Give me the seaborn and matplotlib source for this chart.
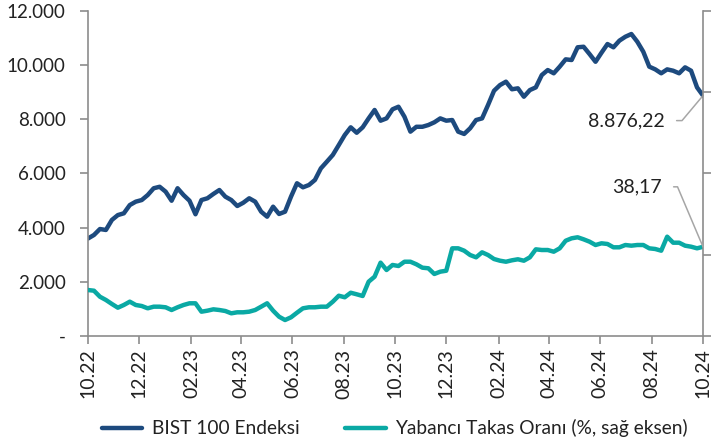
import matplotlib
matplotlib.use("Agg")
import matplotlib.pyplot as plt
import matplotlib.dates as mdates
from matplotlib.ticker import FuncFormatter, FixedLocator
import pandas as pd
import seaborn as sns

# ---------------- data ----------------
bist_values = [3600, 3730, 3950, 3915, 4285, 4465, 4530, 4835, 4960, 5020,
               5205, 5455, 5510, 5330, 4995, 5455, 5205, 4995, 4495, 5020,
               5085, 5245, 5390, 5145, 5020, 4800, 4920, 5085, 4960, 4590,
               4405, 4775, 4505, 4590, 5145, 5640, 5490, 5575, 5760, 6190,
               6435, 6685, 7050, 7420, 7705, 7505, 7705, 8035, 8345, 7950,
               8035, 8370, 8465, 8095, 7545, 7725, 7725, 7790, 7890, 8035,
               7950, 7975, 7545, 7460, 7670, 7975, 8035, 8530, 9055, 9265,
               9390, 9110, 9145, 8835, 9080, 9180, 9635, 9820, 9700, 9945,
               10215, 10190, 10660, 10680, 10410, 10125, 10460, 10780, 10660, 10905,
               11050, 11150, 10865, 10495, 9945, 9845, 9700, 9845, 9795, 9700,
               9920, 9795, 9180, 8876.22]

takas_values = [31.79, 31.69, 30.80, 30.32, 29.73, 29.18, 29.58, 30.07, 29.58, 29.43,
                29.09, 29.33, 29.33, 29.24, 28.84, 29.24, 29.58, 29.83, 29.83, 28.59,
                28.74, 28.94, 28.84, 28.69, 28.35, 28.50, 28.50, 28.59, 28.84, 29.33,
                29.83, 28.74, 27.85, 27.36, 27.76, 28.44, 29.09, 29.24, 29.24, 29.33,
                29.33, 30.07, 30.95, 30.72, 31.39, 31.16, 30.91, 33.02, 33.76, 35.83,
                34.75, 35.49, 35.34, 35.97, 35.97, 35.59, 35.09, 35.00, 34.16, 34.50,
                34.64, 37.95, 37.95, 37.60, 36.96, 36.62, 37.36, 36.96, 36.37, 36.12,
                35.97, 36.18, 36.33, 36.12, 36.62, 37.80, 37.70, 37.70, 37.45, 37.95,
                39.07, 39.43, 39.58, 39.28, 38.93, 38.44, 38.69, 38.59, 38.10, 38.10,
                38.44, 38.34, 38.44, 38.44, 37.95, 37.85, 37.60, 39.67, 38.78, 38.78,
                38.34, 38.19, 37.95, 38.17]

start_date = "2022-10-01"
end_date = "2024-10-01"
bist_label = "BIST 100 Endeksi"
takas_label = "Yabancı Takas Oranı (%, sağ eksen)"
bist_last_text = "8.876,22"
takas_last_text = "38,17"

bist_dates = pd.date_range(start_date, end_date, periods=len(bist_values))
takas_dates = pd.date_range(start_date, end_date, periods=len(takas_values))
df_bist = pd.DataFrame({"date": bist_dates, "value": bist_values})
df_takas = pd.DataFrame({"date": takas_dates, "value": takas_values})

# ---------------- style ----------------
sns.set_style("white")
plt.rcParams["font.family"] = ["Lato", "DejaVu Sans"]
navy = "#1d4a7e"
teal = "#0aa9a4"
spine_col = "#8c8c8c"
text_col = "#222222"
fs = 13.5
fs_big = 14

fig = plt.figure(figsize=(7.18, 4.48), dpi=100)
ax = fig.add_axes([88 / 718, 112 / 448, 615 / 718, 325 / 448])
ax2 = ax.twinx()

sns.lineplot(data=df_bist, x="date", y="value", ax=ax, color=navy, linewidth=3.2,
             label=bist_label, legend=False)
sns.lineplot(data=df_takas, x="date", y="value", ax=ax2, color=teal, linewidth=3.2,
             label=takas_label, legend=False)

ax.set_xlim(pd.Timestamp(start_date), pd.Timestamp(end_date))
ax.set_ylim(0, 12000)
ax.set_yticks(range(0, 12001, 2000))
ax.yaxis.set_major_formatter(FuncFormatter(
    lambda v, p: "-" if v == 0 else f"{v:,.0f}".replace(",", ".")))
ax2.set_ylim(25, 73)
ax2.yaxis.set_major_locator(FixedLocator([25, 37, 49, 61, 73]))
ax2.set_yticklabels([])

ax.xaxis.set_major_locator(mdates.MonthLocator(bymonth=[2, 4, 6, 8, 10, 12]))
ax.xaxis.set_major_formatter(mdates.DateFormatter("%m.%y"))
for lab in ax.get_xticklabels():
    lab.set_rotation(90)

for a in (ax, ax2):
    a.set_xlabel("")
    a.set_ylabel("")
    for s in a.spines.values():
        s.set_color(spine_col)
        s.set_linewidth(1.2)
    a.spines["top"].set_visible(False)
ax.spines["right"].set_visible(False)
ax2.spines["left"].set_visible(False)
ax2.spines["bottom"].set_visible(False)

ax.tick_params(axis="y", direction="out", length=6, width=1.2, color=spine_col,
               labelsize=fs, labelcolor=text_col, left=True, pad=10)
ax.tick_params(axis="x", direction="out", length=6, width=1.2, color=spine_col,
               labelsize=fs_big, labelcolor=text_col, bottom=True, pad=3)
ax2.tick_params(axis="y", direction="out", length=6, width=1.2, color=spine_col, right=True)

# end value callouts
gray = "#a6a6a6"
ax.annotate(bist_last_text, xy=(bist_dates[-1], bist_values[-1]), xytext=(-38, -25),
            textcoords="offset pixels", ha="right", va="center", fontsize=fs_big, color=text_col,
            arrowprops=dict(arrowstyle="-", color=gray, lw=1.1, relpos=(1, 0.5),
                            shrinkA=6, shrinkB=0,
                            connectionstyle="angle,angleA=0,angleB=50,rad=0"))
ax2.annotate(takas_last_text, xy=(takas_dates[-1], takas_values[-1]), xytext=(-41, 60),
             textcoords="offset pixels", ha="right", va="center", fontsize=fs_big, color=text_col,
             arrowprops=dict(arrowstyle="-", color=gray, lw=1.1, relpos=(1, 0.5),
                             shrinkA=6, shrinkB=0,
                             connectionstyle="angle,angleA=0,angleB=113,rad=0"))

h1, l1 = ax.get_legend_handles_labels()
h2, l2 = ax2.get_legend_handles_labels()
fig.legend(h1 + h2, l1 + l2, loc="lower center", bbox_to_anchor=(0.55, -0.015), ncol=2,
           frameon=False, fontsize=13.8, handlelength=2.1, columnspacing=2.4,
           handletextpad=0.5, labelcolor=text_col)

fig.savefig("out.png", dpi=100)
